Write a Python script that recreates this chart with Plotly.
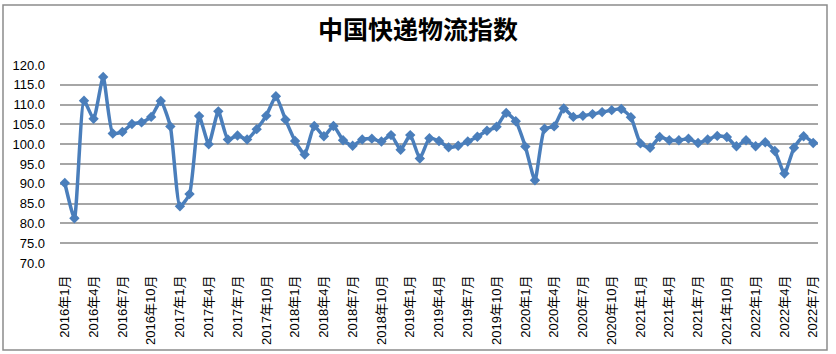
import plotly.graph_objects as go

months = [f"{y}年{m}月" for y in range(2016, 2023) for m in range(1, 13)][:79]

values = [
    90.2, 81.3, 111.0, 106.4, 117.0, 102.7, 103.1, 105.1, 105.5, 106.9, 110.9, 104.5,
    84.3, 87.4, 107.1, 100.0, 108.3, 101.2, 102.2, 101.2, 103.8, 107.2, 112.1, 106.2,
    100.8, 97.4, 104.6, 102.0, 104.6, 101.0, 99.6, 101.2, 101.4, 100.7, 102.3, 98.6,
    102.3, 96.4, 101.5, 100.8, 99.2, 99.6, 100.7, 101.9, 103.4, 104.4, 107.9, 105.8,
    99.4, 90.9, 103.9, 104.5, 109.0, 106.9, 107.2, 107.6, 108.1, 108.6, 108.9, 106.8,
    100.2, 99.1, 101.8, 101.0, 101.0, 101.4, 100.3, 101.2, 102.1, 101.8, 99.5, 101.0,
    99.5, 100.5, 98.3, 92.6, 99.1, 102.0, 100.3,
]

tick_idx = list(range(0, 79, 3))
tick_text = [months[i] for i in tick_idx]
y_ticks = [70 + 5 * i for i in range(11)]

fig = go.Figure()
fig.add_trace(go.Scatter(
    x=list(range(len(values))), y=values, mode="lines+markers",
    line=dict(color="#4a7ebb", width=3.5, shape="spline", smoothing=0.5),
    marker=dict(symbol="diamond", size=8, color="#4a7ebb"),
    showlegend=False, hoverinfo="skip",
))

L, R, T, B = 60, 18, 65, 91
W, H = 836, 354
pw, ph = W - L - R, H - T - B

def px(x):
    return (x - L) / pw

def py(y):
    return (H - B - y) / ph

fig.update_layout(
    width=W, height=H,
    margin=dict(l=L, r=R, t=T, b=B),
    paper_bgcolor="white", plot_bgcolor="white",
    title=dict(text="<b>中国快递物流指数</b>", x=0.5, xanchor="center", y=1 - 30 / H, yanchor="middle",
               font=dict(family="Noto Sans CJK SC", size=25, color="black")),
    xaxis=dict(
        range=[-0.5, 78.5], tickmode="array", tickvals=tick_idx, ticktext=tick_text,
        tickangle=-90, showgrid=False, zeroline=False, showline=False, ticks="",
        ticklabelstandoff=9, automargin=False,
        tickfont=dict(family="Arial, Liberation Sans, Noto Sans CJK SC", size=13, color="black"),
    ),
    yaxis=dict(
        range=[70, 120], tickmode="array", tickvals=y_ticks,
        ticktext=[f"{v:.1f}" for v in y_ticks], showgrid=True, gridcolor="#a6a6a6", gridwidth=1.5,
        zeroline=False, showline=False, ticks="", ticklabelstandoff=14, automargin=False,
        tickfont=dict(family="Arial, Liberation Sans", size=13, color="black"),
    ),
    shapes=[dict(type="rect", xref="paper", yref="paper",
                 x0=px(3), x1=px(827), y0=py(5), y1=py(350),
                 line=dict(color="#8c8c8c", width=1.5), fillcolor="rgba(0,0,0,0)", layer="below")],
)

fig.write_html("out.html")
